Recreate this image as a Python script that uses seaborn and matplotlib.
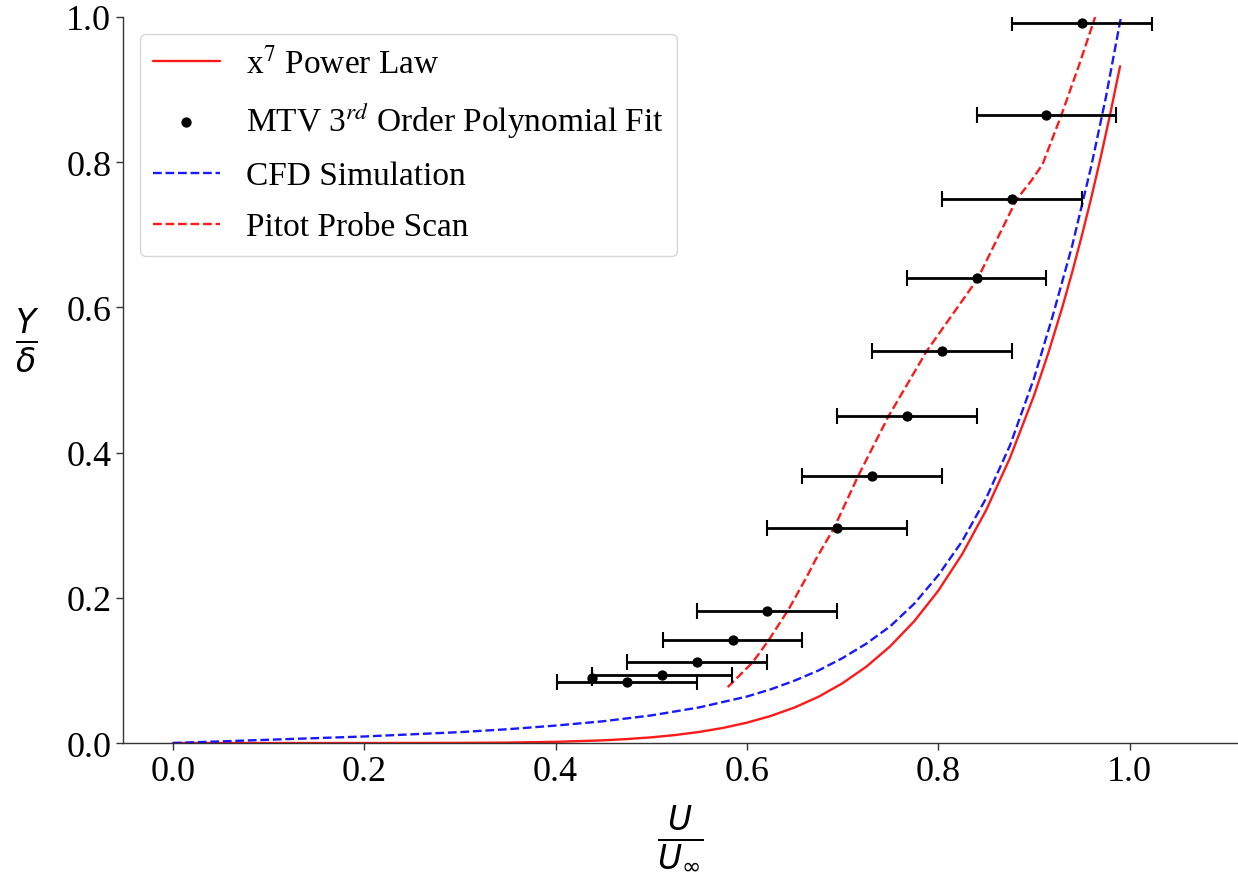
import matplotlib
matplotlib.use("Agg")
import matplotlib.pyplot as plt
import seaborn as sns
from matplotlib.font_manager import FontProperties

# x^7 power law (red solid)
power_u = [0.0, 0.1, 0.2, 0.3, 0.35, 0.4, 0.45, 0.475, 0.5, 0.525, 0.55, 0.575,
           0.6, 0.625, 0.65, 0.675, 0.7, 0.725, 0.75, 0.775, 0.8, 0.825, 0.85,
           0.875, 0.9, 0.915, 0.93, 0.94, 0.95, 0.96, 0.97, 0.98, 0.99]
power_y = [0.0, 0.0, 0.00001, 0.0002, 0.0006, 0.0016, 0.0037, 0.0055, 0.0078,
           0.011, 0.0152, 0.0208, 0.028, 0.0373, 0.049, 0.0638, 0.0824, 0.1053,
           0.1335, 0.1679, 0.2097, 0.2601, 0.3206, 0.3927, 0.4783, 0.537, 0.6017,
           0.6485, 0.6983, 0.7514, 0.808, 0.8681, 0.9321]

# CFD simulation (blue dashed)
cfd_u = [0.0, 0.1, 0.2, 0.3, 0.35, 0.4, 0.45, 0.5, 0.55, 0.6, 0.625, 0.65, 0.675,
         0.7, 0.725, 0.75, 0.775, 0.8, 0.825, 0.85, 0.875, 0.9, 0.92, 0.94,
         0.96, 0.975, 0.991]
cfd_y = [0.0, 0.0045, 0.009, 0.015, 0.019, 0.024, 0.030, 0.038, 0.049, 0.064,
         0.074, 0.086, 0.100, 0.117, 0.137, 0.161, 0.192, 0.231, 0.278, 0.337,
         0.41, 0.502, 0.59, 0.685, 0.795, 0.888, 1.0]

# Pitot probe scan (red dashed)
pitot_u = [0.580, 0.606, 0.623, 0.644, 0.663, 0.672, 0.691, 0.716, 0.748, 0.788,
           0.841, 0.882, 0.897, 0.909, 0.929, 0.947, 0.964]
pitot_y = [0.077, 0.111, 0.142, 0.185, 0.230, 0.253, 0.296, 0.367, 0.450, 0.540,
           0.639, 0.749, 0.774, 0.797, 0.866, 0.933, 1.0]

# MTV 3rd order polynomial fit points with horizontal error
mtv_u = [0.950, 0.913, 0.877, 0.840, 0.804, 0.767, 0.731, 0.694, 0.621, 0.585,
         0.548, 0.511, 0.475, 0.438]
mtv_y = [0.992, 0.865, 0.749, 0.641, 0.540, 0.450, 0.368, 0.296, 0.182, 0.142,
         0.112, 0.094, 0.084, 0.090]
mtv_err = [0.073, 0.073, 0.073, 0.073, 0.073, 0.073, 0.073, 0.073, 0.073, 0.073,
           0.073, 0.073, 0.073, 0.0]

labels = [r'x$^7$ Power Law', r'MTV 3$^{rd}$ Order Polynomial Fit',
          'CFD Simulation', 'Pitot Probe Scan']

sns.set_style("ticks")
plt.rcParams['font.family'] = ['Liberation Serif', 'DejaVu Serif']
plt.rcParams['text.color'] = 'black'

fig, ax = plt.subplots(figsize=(12.38, 8.78), dpi=100)
fig.subplots_adjust(left=0.0994, right=0.999, bottom=0.1526, top=0.9795)

sns.lineplot(x=power_u, y=power_y, color='red', lw=1.7, alpha=0.9,
             sort=False, estimator=None, label=labels[0], ax=ax)
ax.errorbar(mtv_u, mtv_y, xerr=mtv_err, fmt='none', ecolor='black',
            elinewidth=2, capsize=6, capthick=1.5, zorder=3)
sns.scatterplot(x=mtv_u, y=mtv_y, color='black', s=55, edgecolor='black',
                linewidth=0, label=labels[1], zorder=4, ax=ax)
sns.lineplot(x=cfd_u, y=cfd_y, color='blue', lw=1.7, alpha=0.9, linestyle='--',
             sort=False, estimator=None, label=labels[2], ax=ax)
sns.lineplot(x=pitot_u, y=pitot_y, color='red', lw=1.7, alpha=0.9, linestyle='--',
             sort=False, estimator=None, label=labels[3], ax=ax)

ax.set_xlim(-0.052, 1.112)
ax.set_ylim(0, 1.0)
ax.set_xticks([0.0, 0.2, 0.4, 0.6, 0.8, 1.0])
ax.set_yticks([0.0, 0.2, 0.4, 0.6, 0.8, 1.0])
ax.tick_params(labelsize=26, length=5, width=1, color='0.2', labelcolor='black')
sns.despine(ax=ax)
for side in ['left', 'bottom']:
    ax.spines[side].set_color('0.2')
    ax.spines[side].set_linewidth(1)

ax.set_xlabel(r'$\frac{U}{U_\infty}$', fontsize=34, color='black')
ax.xaxis.set_label_coords(0.5, -0.13)
ax.xaxis.label.set_va('center')
ax.set_ylabel(r'$\frac{Y}{\delta}$', fontsize=34, rotation=0, ha='center',
              va='center', color='black')
ax.yaxis.set_label_coords(-0.086, 0.555)

handles, labs = ax.get_legend_handles_labels()
order = [labs.index(l) for l in labels]
leg_font = FontProperties(family='Liberation Serif', size=24, math_fontfamily='stix')
leg = ax.legend([handles[i] for i in order], [labs[i] for i in order],
                loc='upper left', prop=leg_font, labelspacing=0.62)
for t in leg.get_texts():
    t.set_color('black')

fig.savefig('out.png', dpi=100)
